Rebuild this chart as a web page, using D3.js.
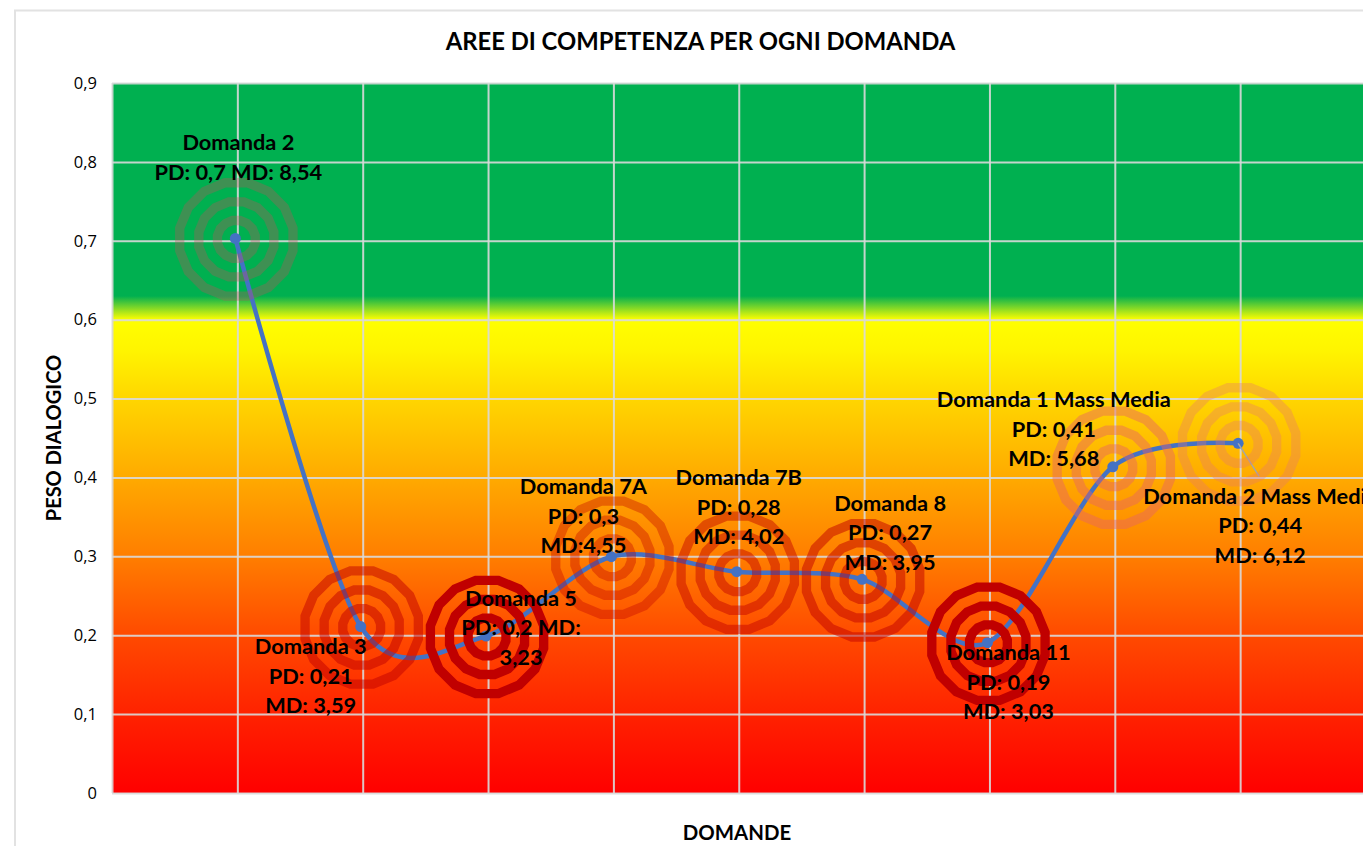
<!DOCTYPE html>
<html lang="it">
<head>
<meta charset="utf-8">
<title>Aree di competenza per ogni domanda</title>
<script src="https://cdn.jsdelivr.net/npm/d3@7"></script>
<style>
html,body{margin:0;padding:0;background:#fff;overflow:hidden}
svg{display:block}
text{fill:#000}
</style>
</head>
<body>
<svg id="chart" width="1363" height="846"></svg>
<script>
// ---- data ----
const titleText = "AREE DI COMPETENZA PER OGNI DOMANDA";
const xAxisTitle = "DOMANDE";
const yAxisTitle = "PESO DIALOGICO";
const categories = ["Domanda 2","Domanda 3","Domanda 5","Domanda 7A","Domanda 7B","Domanda 8","Domanda 11","Domanda 1 Mass Media","Domanda 2 Mass Media"];
const pesoDialogico = [0.703,0.211,0.199,0.2995,0.2805,0.2708,0.1905,0.4135,0.4432];
const labelLines = [
  ["Domanda 2","PD: 0,7 MD: 8,54"],
  ["Domanda 3","PD: 0,21","MD: 3,59"],
  ["Domanda 5","PD: 0,2 MD:","3,23"],
  ["Domanda 7A","PD: 0,3","MD:4,55"],
  ["Domanda 7B","PD: 0,28","MD: 4,02"],
  ["Domanda 8","PD: 0,27","MD: 3,95"],
  ["Domanda 11","PD: 0,19","MD: 3,03"],
  ["Domanda 1 Mass Media","PD: 0,41","MD: 5,68"],
  ["Domanda 2 Mass Media","PD: 0,44","MD: 6,12"]
];
const yTicks = [0,0.1,0.2,0.3,0.4,0.5,0.6,0.7,0.8,0.9];
const ringOpacity = [0.33,0.5,1,0.36,0.46,0.5,1,0.45,0.35];
const ringColors = ["#be505a","#c00000","#c00000","#c00000","#c00000","#c00000","#c00000","#e66464","#e6786e"];
const backgroundStops = [
  [0,"#ff0000"],[0.1,"#ff2200"],[0.2,"#ff4a00"],[0.3,"#ff7e00"],[0.4,"#ffaa00"],
  [0.5,"#ffd600"],[0.56,"#fff400"],[0.6,"#ffff00"],[0.63,"#00b050"],[0.9,"#00b050"]
];
// label centre offsets from each point (x, y of the first line's middle)
const labelOffsetX = [1,-52,33,-30,0,26,19,-61,20];
const labelOffsetY = [-96,20,-38,-70,-94,-76,10,-67,53];

// ---- layout ----
const plot = {left:112, right:1365.5, top:83, bottom:793};
const lineGap = 29.5;
const ringRadii = [62.5,43,24];
const ringWidth = 9.5;
const ringSides = 16;

const svg = d3.select("#chart");
const FONT = "Lato, 'Open Sans', sans-serif";

const y = d3.scaleLinear().domain([0,0.9]).range([plot.bottom,plot.top]);
const x = d3.scaleLinear().domain([-1,categories.length]).range([plot.left,plot.right]);
const px = i => x(i) - 2;   // the reference's series sits a hair left of its gridlines
const fmt = v => String(+v.toFixed(1)).replace(".",",");

// outer chart frame
svg.append("path").attr("d",`M15,846V10.5H1363`).attr("fill","none").attr("stroke","#e2e2e2").attr("stroke-width",2);

// background gradient
const defs = svg.append("defs");
const grad = defs.append("linearGradient").attr("id","bg").attr("gradientUnits","userSpaceOnUse")
  .attr("x1",0).attr("x2",0).attr("y1",y(0)).attr("y2",y(0.9));
grad.selectAll("stop").data(backgroundStops).join("stop")
  .attr("offset",d=>d[0]/0.9).attr("stop-color",d=>d[1]);
svg.append("rect").attr("x",plot.left).attr("y",plot.top)
  .attr("width",plot.right-plot.left).attr("height",plot.bottom-plot.top).attr("fill","url(#bg)");

// gridlines
const gridColor = "rgba(217,217,217,0.9)";
const gridX = svg.append("g").attr("transform",`translate(0,${plot.bottom})`)
  .call(d3.axisBottom(x).tickValues(d3.range(-1,categories.length+1)).tickSize(-(plot.bottom-plot.top)).tickFormat(""));
gridX.select(".domain").remove();
gridX.selectAll("line").attr("stroke",gridColor).attr("stroke-width",2);

const gridY = svg.append("g").attr("transform",`translate(${plot.left},0)`)
  .call(d3.axisLeft(y).tickValues(yTicks).tickSize(-(plot.right-plot.left)).tickPadding(15).tickFormat(fmt));
gridY.select(".domain").remove();
gridY.selectAll("line").attr("stroke",gridColor).attr("stroke-width",2);
gridY.selectAll("text").attr("font-family","'Open Sans', sans-serif").attr("font-size",16.5).attr("fill","#111");

// smooth line
const line = d3.line().x((d,i)=>px(i)).y(d=>y(d)).curve(d3.curveCardinal.tension(0.12));
svg.append("path").datum(pesoDialogico).attr("d",line).attr("fill","none")
  .attr("stroke","#4472c4").attr("stroke-width",4.5).attr("stroke-linecap","round");

// markers
svg.append("g").selectAll("circle").data(pesoDialogico).join("circle")
  .attr("cx",(d,i)=>px(i)).attr("cy",d=>y(d)).attr("r",5.5).attr("fill","#4472c4");

// leader line of the last label
const last = pesoDialogico.length-1;
svg.append("line").attr("x1",px(last)).attr("y1",y(pesoDialogico[last]))
  .attr("x2",px(last)+21).attr("y2",y(pesoDialogico[last])+33)
  .attr("stroke","#a6a6a6").attr("stroke-width",1.5);

// concentric target rings
const polygon = (r,cx,cy) => {
  const a = d3.range(ringSides).map(k=>{
    const t = (k+0.5)/ringSides*2*Math.PI;
    return [cx+r*Math.cos(t), cy+r*Math.sin(t)];
  });
  return "M"+a.join("L")+"Z";
};
svg.append("g").selectAll("g").data(pesoDialogico).join("g").each(function(d,i){
  d3.select(this).selectAll("path").data(ringRadii).join("path")
    .attr("d",r=>polygon(r,x(i)-1,y(d)+1)+polygon(r-ringWidth,x(i)-1,y(d)+1))
    .attr("fill-rule","evenodd").attr("fill",ringColors[i]).attr("fill-opacity",ringOpacity[i]);
});

// data labels
const labels = svg.append("g").selectAll("text").data(labelLines).join("text")
  .attr("text-anchor","middle").attr("font-family",FONT).attr("font-weight",700).attr("font-size",21.8);
labels.each(function(lines,i){
  const cx = x(i)+labelOffsetX[i], cy = y(pesoDialogico[i])+labelOffsetY[i];
  d3.select(this).selectAll("tspan").data(lines).join("tspan")
    .attr("x",cx).attr("y",(l,k)=>cy+k*lineGap).attr("dy","0.35em").text(l=>l);
});

// titles
svg.append("text").attr("x",700.5).attr("y",42).attr("dy","0.35em").attr("text-anchor","middle")
  .attr("font-family",FONT).attr("font-weight",700).attr("font-size",23.8).text(titleText);
svg.append("text").attr("x",737).attr("y",833).attr("dy","0.35em").attr("text-anchor","middle")
  .attr("font-family",FONT).attr("font-weight",700).attr("font-size",20.4).text(xAxisTitle);
svg.append("text").attr("transform","translate(54,438) rotate(-90)").attr("dy","0.35em").attr("text-anchor","middle")
  .attr("font-family",FONT).attr("font-weight",700).attr("font-size",20).text(yAxisTitle);
</script>
</body>
</html>
